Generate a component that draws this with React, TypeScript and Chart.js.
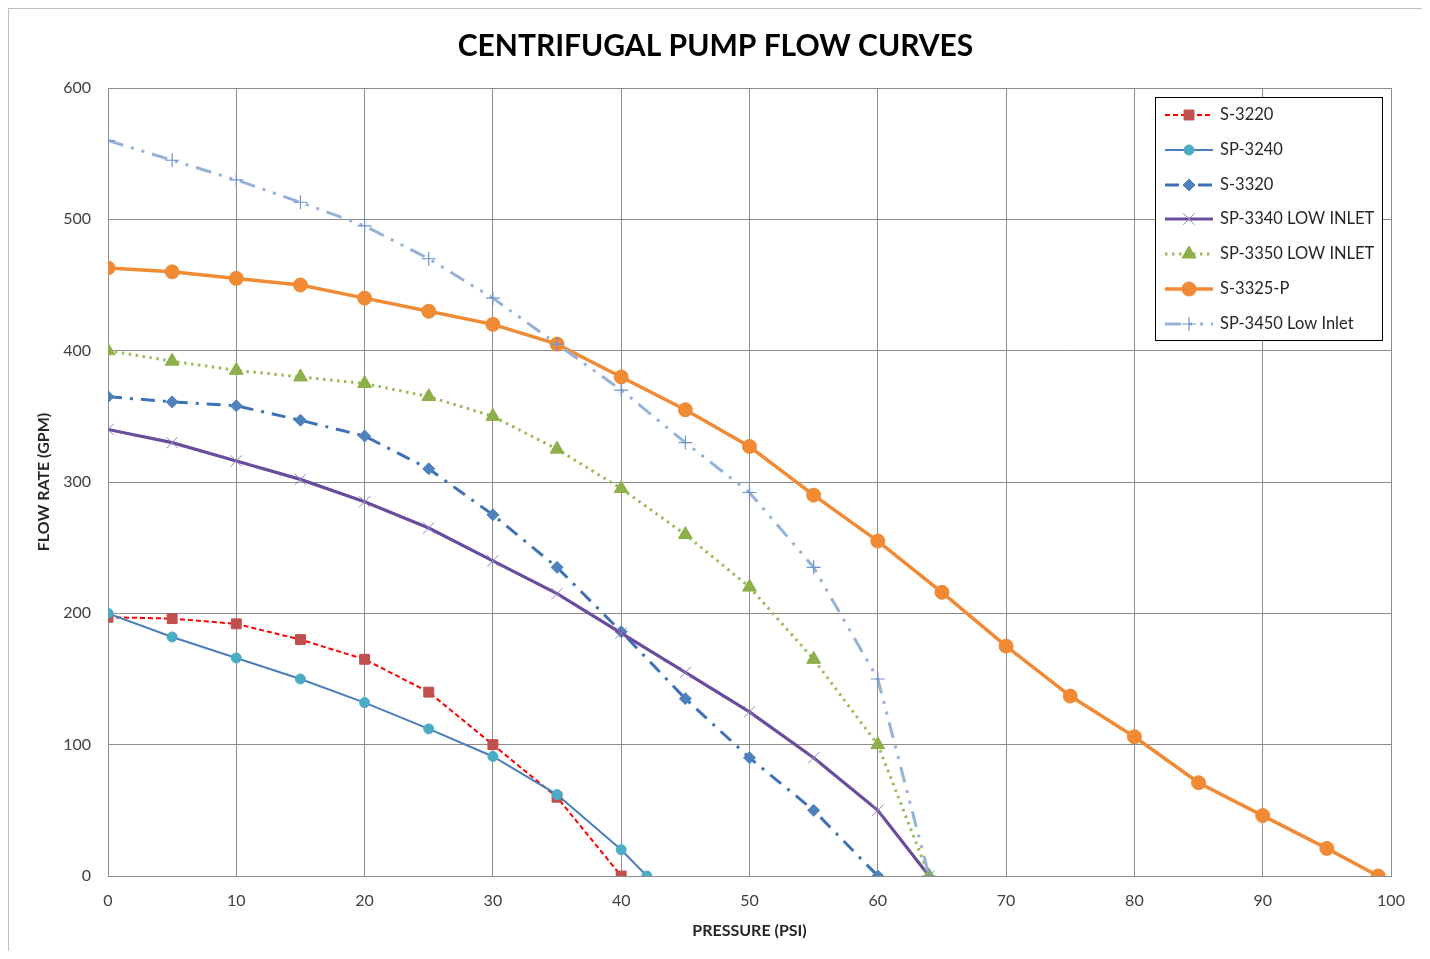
import React, { useEffect, useRef } from 'react';
import { Chart, registerables } from 'chart.js';
import { drawPoint } from 'chart.js/helpers';

Chart.register(...registerables);

const FONT = 'Lato, "Open Sans", sans-serif';

const TITLE = 'CENTRIFUGAL PUMP FLOW CURVES';
const X_TITLE = 'PRESSURE (PSI)';
const Y_TITLE = 'FLOW RATE (GPM)';

const SERIES_NAMES = [
  'S-3220',
  'SP-3240',
  'S-3320',
  'SP-3340 LOW INLET',
  'SP-3350 LOW INLET',
  'S-3325-P',
  'SP-3450 Low Inlet',
];

const S3220_PSI = [0, 5, 10, 15, 20, 25, 30, 35, 40];
const S3220_GPM = [197, 196, 192, 180, 165, 140, 100, 60, 0];

const SP3240_PSI = [0, 5, 10, 15, 20, 25, 30, 35, 40, 42];
const SP3240_GPM = [200, 182, 166, 150, 132, 112, 91, 62, 20, 0];

const S3320_PSI = [0, 5, 10, 15, 20, 25, 30, 35, 40, 45, 50, 55, 60];
const S3320_GPM = [365, 361, 358, 347, 335, 310, 275, 235, 186, 135, 90, 50, 0];

const SP3340_PSI = [0, 5, 10, 15, 20, 25, 30, 35, 40, 45, 50, 55, 60, 64];
const SP3340_GPM = [340, 330, 316, 302, 285, 265, 240, 215, 185, 155, 125, 90, 50, 0];

const SP3350_PSI = [0, 5, 10, 15, 20, 25, 30, 35, 40, 45, 50, 55, 60, 64];
const SP3350_GPM = [400, 392, 385, 380, 375, 365, 350, 325, 295, 260, 220, 165, 100, 0];

const S3325P_PSI = [0, 5, 10, 15, 20, 25, 30, 35, 40, 45, 50, 55, 60, 65, 70, 75, 80, 85, 90, 95, 99];
const S3325P_GPM = [463, 460, 455, 450, 440, 430, 420, 405, 380, 355, 327, 290, 255, 216, 175, 137, 106, 71, 46, 21, 0];

const SP3450_PSI = [0, 5, 10, 15, 20, 25, 30, 35, 40, 45, 50, 55, 60, 64];
const SP3450_GPM = [560, 545, 530, 513, 495, 470, 440, 405, 370, 330, 292, 235, 150, 0];

const X_MIN = 0, X_MAX = 100, X_STEP = 10;
const Y_MIN = 0, Y_MAX = 600, Y_STEP = 100;

const SERIES_X = [S3220_PSI, SP3240_PSI, S3320_PSI, SP3340_PSI, SP3350_PSI, S3325P_PSI, SP3450_PSI];
const SERIES_Y = [S3220_GPM, SP3240_GPM, S3320_GPM, SP3340_GPM, SP3350_GPM, S3325P_GPM, SP3450_GPM];

const STYLES: any[] = [
  { borderColor: '#FF0000', borderWidth: 2, borderDash: [5, 3], pointStyle: 'rect', pointRadius: 7, pointBackgroundColor: '#C0504D', pointBorderColor: '#C0504D', pointBorderWidth: 1 },
  { borderColor: '#4A7EBB', borderWidth: 2, borderDash: [], pointStyle: 'circle', pointRadius: 5, pointBackgroundColor: '#4BACC6', pointBorderColor: '#4BACC6', pointBorderWidth: 1 },
  { borderColor: '#3F72B5', borderWidth: 3, borderDash: [14, 8, 3, 8], pointStyle: 'rectRot', pointRadius: 6, pointBackgroundColor: '#4F81BD', pointBorderColor: '#4F81BD', pointBorderWidth: 1 },
  { borderColor: '#6A4C9C', borderWidth: 3.2, borderDash: [], pointStyle: 'crossRot', pointRadius: 8, pointBackgroundColor: '#9483BE', pointBorderColor: '#9483BE', pointBorderWidth: 1 },
  { borderColor: '#9BBB59', borderWidth: 3, borderDash: [2.5, 4.5], pointStyle: 'triangle', pointRadius: 8, pointBackgroundColor: '#8DB04A', pointBorderColor: '#8DB04A', pointBorderWidth: 1 },
  { borderColor: '#F08A35', borderWidth: 3.5, borderDash: [], pointStyle: 'circle', pointRadius: 7, pointBackgroundColor: '#F08A35', pointBorderColor: '#F08A35', pointBorderWidth: 1 },
  { borderColor: '#95B3D7', borderWidth: 3, borderDash: [16, 8, 3, 8, 3, 8], pointStyle: 'cross', pointRadius: 7, pointBackgroundColor: '#6F93CF', pointBorderColor: '#6F93CF', pointBorderWidth: 1.2 },
];

const legendPlugin = {
  id: 'boxLegend',
  afterDraw(chart: any) {
    const { ctx, chartArea } = chart;
    const w = 227;
    const h = 243;
    const x0 = Math.round(chartArea.right - 9 - w);
    const y0 = Math.round(chartArea.top + 9);
    ctx.save();
    ctx.fillStyle = '#ffffff';
    ctx.fillRect(x0, y0, w, h);
    ctx.strokeStyle = '#000000';
    ctx.lineWidth = 1;
    ctx.strokeRect(x0 + 0.5, y0 + 0.5, w, h);
    chart.data.datasets.forEach((ds: any, i: number) => {
      const cy = Math.round(y0 + 18 + i * 34.8);
      ctx.save();
      ctx.strokeStyle = ds.borderColor;
      ctx.lineWidth = ds.borderWidth;
      ctx.setLineDash(ds.borderDash || []);
      ctx.beginPath();
      ctx.moveTo(x0 + 10, cy);
      ctx.lineTo(x0 + 58, cy);
      ctx.stroke();
      ctx.restore();
      ctx.save();
      ctx.fillStyle = ds.pointBackgroundColor;
      ctx.strokeStyle = ds.pointBorderColor;
      ctx.lineWidth = ds.pointBorderWidth;
      ctx.setLineDash([]);
      drawPoint(ctx, { pointStyle: ds.pointStyle, radius: ds.pointRadius, borderWidth: ds.pointBorderWidth, rotation: 0 } as any, x0 + 34, cy);
      ctx.restore();
      ctx.fillStyle = '#262626';
      ctx.font = `16.5px ${FONT}`;
      ctx.textBaseline = 'middle';
      ctx.textAlign = 'left';
      ctx.fillText(ds.label, x0 + 65, cy);
    });
    ctx.restore();
  },
};

export default function App() {
  const canvasRef = useRef<HTMLCanvasElement | null>(null);

  useEffect(() => {
    if (!canvasRef.current) return;
    const datasets = SERIES_NAMES.map((name, i) => ({
      label: name,
      data: SERIES_X[i].map((x, j) => ({ x, y: SERIES_Y[i][j] })),
      ...STYLES[i],
      pointHoverRadius: STYLES[i].pointRadius,
      fill: false,
      tension: 0,
      order: SERIES_NAMES.length - i,
    }));

    const chart = new Chart(canvasRef.current, {
      type: 'line',
      data: { datasets },
      plugins: [legendPlugin],
      options: {
        animation: false,
        responsive: true,
        maintainAspectRatio: false,
        layout: { padding: 0 },
        plugins: {
          legend: { display: false },
          tooltip: { enabled: false },
          title: {
            display: true,
            text: TITLE,
            color: '#000000',
            font: { family: FONT, size: 30, weight: 'bold' },
            padding: { top: 19, bottom: 24 },
          },
        },
        scales: {
          x: {
            type: 'linear',
            min: X_MIN,
            max: X_MAX,
            ticks: { stepSize: X_STEP, color: '#404040', font: { family: FONT, size: 16 }, padding: 15, maxRotation: 0 },
            grid: { color: '#8C8C8C', lineWidth: 1, drawTicks: false },
            border: { color: '#8C8C8C' },
            title: { display: true, text: X_TITLE, color: '#262626', font: { family: FONT, size: 16, weight: 'bold' }, padding: { top: 4, bottom: 11 } },
            afterFit: (scale: any) => { scale.height = 75; },
          },
          y: {
            type: 'linear',
            min: Y_MIN,
            max: Y_MAX,
            ticks: { stepSize: Y_STEP, color: '#404040', font: { family: FONT, size: 16 }, padding: 17 },
            grid: { color: '#8C8C8C', lineWidth: 1, drawTicks: false },
            border: { color: '#8C8C8C' },
            title: { display: true, text: Y_TITLE, color: '#262626', font: { family: FONT, size: 16, weight: 'bold' }, padding: { top: 25, bottom: 4 } },
            afterFit: (scale: any) => { scale.width = 99; },
          },
          yRight: {
            type: 'linear',
            position: 'right',
            display: true,
            min: Y_MIN,
            max: Y_MAX,
            ticks: { display: false },
            grid: { display: false, drawTicks: false },
            border: { display: false },
            afterFit: (scale: any) => { scale.width = 31; },
          },
        },
      } as any,
    });
    return () => chart.destroy();
  }, []);

  return (
    <div
      style={{
        width: 1413,
        height: 942,
        borderTop: '1px solid #BFBFBF',
        borderLeft: '1px solid #BFBFBF',
        borderRight: '1px solid #BFBFBF',
        position: 'relative',
        background: '#ffffff',
      }}
    >
      <canvas ref={canvasRef} />
    </div>
  );
}
